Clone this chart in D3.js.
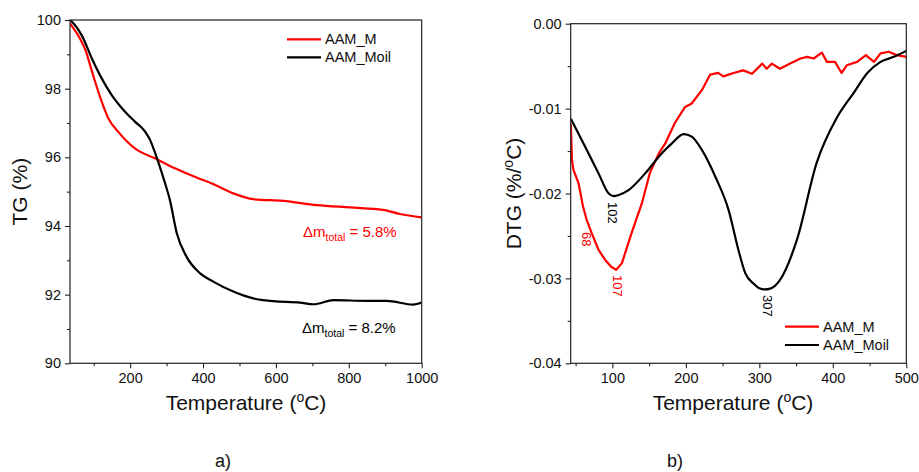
<!DOCTYPE html>
<html><head><meta charset="utf-8">
<script src="https://cdn.jsdelivr.net/npm/d3@7"></script>
<style>body{margin:0;background:#fff}svg{font-family:Arial,"Liberation Sans",sans-serif}</style>
</head><body><svg id="c" width="919" height="472"></svg>
<script>
// ---------- DATA ----------
const seriesNames = ["AAM_M", "AAM_Moil"];
const seriesColors = ["#ff0000", "#000000"];

// TG (%) vs temperature (°C)
const tgT_M = [35,45,62,80,90,104,122,140,167,213,268,323,387,424,483,538,620,712,803,894,940,1000];
const tg_M  = [99.9,99.75,99.47,99.05,98.69,98.2,97.62,97.14,96.75,96.26,95.97,95.68,95.39,95.24,94.95,94.78,94.73,94.61,94.54,94.47,94.35,94.25];
const tgT_Moil = [35,45,67,95,122,149,186,213,241,255,266,277,296,309,328,355,392,428,483,538,593,666,703,758,849,904,977,1000];
const tg_Moil  = [100,99.9,99.56,98.88,98.3,97.82,97.33,97.04,96.75,96.5,96.2,95.87,95.24,94.76,93.79,93.1,92.62,92.38,92.09,91.89,91.81,91.77,91.72,91.84,91.82,91.82,91.71,91.77];

// DTG (%/°C) vs temperature (°C)
const dtgT_M = [43.5,45,47,54,60,65,72,81,90,98,105,113,126,140,151,163,172,185,199,208,222,233,244,251,265,278,290,304,310,317,328,342,356,365,374,385,392,403,412,419,433,445,456,465,476,487,500];
const dtg_M  = [-0.0118,-0.0160,-0.0172,-0.0188,-0.0215,-0.0231,-0.0247,-0.0266,-0.0278,-0.0286,-0.0290,-0.0282,-0.0247,-0.0212,-0.0176,-0.0153,-0.0141,-0.0117,-0.0098,-0.0094,-0.0078,-0.0060,-0.0058,-0.0062,-0.0058,-0.0055,-0.0059,-0.0047,-0.0053,-0.0047,-0.0053,-0.0047,-0.0041,-0.0039,-0.0041,-0.0034,-0.0045,-0.0045,-0.0058,-0.0049,-0.0045,-0.0037,-0.0045,-0.0035,-0.0033,-0.0037,-0.0039];
const dtgT_Moil = [43.5,63,81,95,102,108,122,145,167,181,197,208,222,240,258,272,281,292,301,307,315,328,351,378,406,428,447,465,483,500];
const dtg_Moil  = [-0.0112,-0.0145,-0.0176,-0.0200,-0.0203,-0.0202,-0.0196,-0.0176,-0.0153,-0.0141,-0.0130,-0.0133,-0.0149,-0.0180,-0.0219,-0.0268,-0.0294,-0.0306,-0.0312,-0.0313,-0.0312,-0.0302,-0.0255,-0.0164,-0.0110,-0.0082,-0.0058,-0.0045,-0.0039,-0.0032];

// axes
const tgXDomain = [35, 1000], tgYDomain = [90, 100];
const tgXTicks = [200,400,600,800,1000], tgXMinor = [100,300,500,700,900];
const tgYTicks = [90,92,94,96,98,100], tgYMinor = [91,93,95,97,99];
const dtgXDomain = [43.3, 500], dtgYDomain = [-0.04, 0];
const dtgXTicks = [100,200,300,400,500], dtgXMinor = [50,150,250,350,450];
const dtgYTicks = [0,-0.01,-0.02,-0.03,-0.04], dtgYLabels = ["0.00","-0.01","-0.02","-0.03","-0.04"];
const dtgYMinor = [-0.005,-0.015,-0.025,-0.035];

// annotations
const tgNotes = [{text:"5.8%", color:"#ff0000"}, {text:"8.2%", color:"#000000"}];
const dtgPeaks = [{t:102, label:"102", s:1}, {t:68, label:"68", s:0}, {t:107, label:"107", s:0}, {t:307, label:"307", s:1}];

// ---------- DRAW ----------
const svg = d3.select("#c");
const axisColor = "#222";

function panel(o) {
  const g = svg.append("g");
  const x = d3.scaleLinear().domain(o.xd).range([o.l, o.r]);
  const y = d3.scaleLinear().domain(o.yd).range([o.b, o.t]);
  const cid = "clip" + o.id;
  svg.append("clipPath").attr("id", cid).append("rect")
    .attr("x", o.l).attr("y", o.t).attr("width", o.r - o.l).attr("height", o.b - o.t);

  o.series.forEach((s, i) => {
    const pts = s.xs.map((v, k) => [v, s.ys[k]]);
    g.append("path").attr("clip-path", `url(#${cid})`)
      .attr("d", d3.line().x(d => x(d[0])).y(d => y(d[1])).curve(s.curve)(pts))
      .attr("fill", "none").attr("stroke", seriesColors[i]).attr("stroke-width", 2.2)
      .attr("stroke-linejoin", "round");
  });

  g.append("g").attr("transform", `translate(0,${o.b})`)
    .call(d3.axisBottom(x).tickValues(o.xt).tickFormat(d => String(d)).tickSize(5).tickSizeOuter(0).tickPadding(4));
  g.append("g").attr("transform", `translate(0,${o.b})`)
    .call(d3.axisBottom(x).tickValues(o.xm).tickFormat("").tickSize(3).tickSizeOuter(0));
  g.append("g").attr("transform", `translate(${o.l},0)`)
    .call(d3.axisLeft(y).tickValues(o.yt).tickFormat((d, i) => o.yl ? o.yl[i] : String(d)).tickSize(5).tickSizeOuter(0).tickPadding(4));
  g.append("g").attr("transform", `translate(${o.l},0)`)
    .call(d3.axisLeft(y).tickValues(o.ym).tickFormat("").tickSize(3).tickSizeOuter(0));
  g.selectAll(".domain").remove();
  g.selectAll(".tick line").attr("stroke", axisColor).attr("stroke-width", 1.1);
  g.selectAll(".tick text").attr("fill", "#111").style("font-size", "14.5px").style("font-family", "Arial, 'Liberation Sans', sans-serif");
  g.append("rect").attr("x", o.l).attr("y", o.t).attr("width", o.r - o.l).attr("height", o.b - o.t)
    .attr("fill", "none").attr("stroke", axisColor).attr("stroke-width", 1.2);

  const xt = g.append("text").attr("x", o.xtx).attr("y", 410).attr("text-anchor", "middle")
    .style("font-size", "21px").attr("fill", "#111");
  xt.append("tspan").text("Temperature (");
  xt.append("tspan").text("o").style("font-size", "14px").attr("dy", -8);
  xt.append("tspan").text("C)").attr("dy", 8);
  const yt = g.append("text").attr("transform", `translate(${o.ytx},${(o.t + o.b) / 2}) rotate(-90)`)
    .attr("text-anchor", "middle").style("font-size", "21px").attr("fill", "#111");
  o.ytitle(yt);

  o.legend.forEach((ly, i) => {
    g.append("line").attr("x1", o.lgx).attr("x2", o.lgx + 34).attr("y1", ly).attr("y2", ly)
      .attr("stroke", seriesColors[i]).attr("stroke-width", 2.2);
    g.append("text").attr("x", o.lgx + 38).attr("y", ly + 5).text(seriesNames[i])
      .style("font-size", "14.5px").attr("fill", "#111");
  });
  return {x, y, g};
}

const A = panel({id:"a", l:70, r:421.7, t:20, b:363.3, xd:tgXDomain, yd:tgYDomain,
  xt:tgXTicks, xm:tgXMinor, yt:tgYTicks, ym:tgYMinor,
  series:[{xs:tgT_M, ys:tg_M, curve:d3.curveMonotoneX}, {xs:tgT_Moil, ys:tg_Moil, curve:d3.curveMonotoneX}],
  xtx:246, ytx:27, legend:[39.3, 57.3], lgx:287,
  ytitle: t => t.text("TG (%)")});

const B = panel({id:"b", l:570.7, r:906.3, t:23.7, b:363.3, xd:dtgXDomain, yd:dtgYDomain,
  xt:dtgXTicks, xm:dtgXMinor, yt:dtgYTicks, yl:dtgYLabels, ym:dtgYMinor,
  series:[{xs:dtgT_M, ys:dtg_M, curve:d3.curveLinear}, {xs:dtgT_Moil, ys:dtg_Moil, curve:d3.curveMonotoneX}],
  xtx:733, ytx:521, legend:[326.7, 345], lgx:785,
  ytitle: t => { t.append("tspan").text("DTG (%/");
    t.append("tspan").text("o").style("font-size", "14px").attr("dy", -8);
    t.append("tspan").text("C)").attr("dy", 8); }});

[[303, 237], [302, 333]].forEach((p, i) => {
  const t = A.g.append("text").attr("x", p[0]).attr("y", p[1]).attr("fill", tgNotes[i].color).style("font-size", "15px");
  t.append("tspan").text("Δm");
  t.append("tspan").text("total").style("font-size", "10.5px").attr("dy", 4);
  t.append("tspan").text(" = " + tgNotes[i].text).attr("dy", -4);
});

const peakPos = [[608, 202], [582, 232], [613, 275], [763, 295]];
dtgPeaks.forEach((p, i) => {
  B.g.append("text").attr("transform", `translate(${peakPos[i][0]},${peakPos[i][1]}) rotate(90)`)
    .attr("fill", seriesColors[p.s]).style("font-size", "13px").text(p.label);
});

svg.append("text").attr("x", 215).attr("y", 467).text("a)").style("font-size", "18px").attr("fill", "#111");
svg.append("text").attr("x", 667).attr("y", 467).text("b)").style("font-size", "18px").attr("fill", "#111");
</script></body></html>
